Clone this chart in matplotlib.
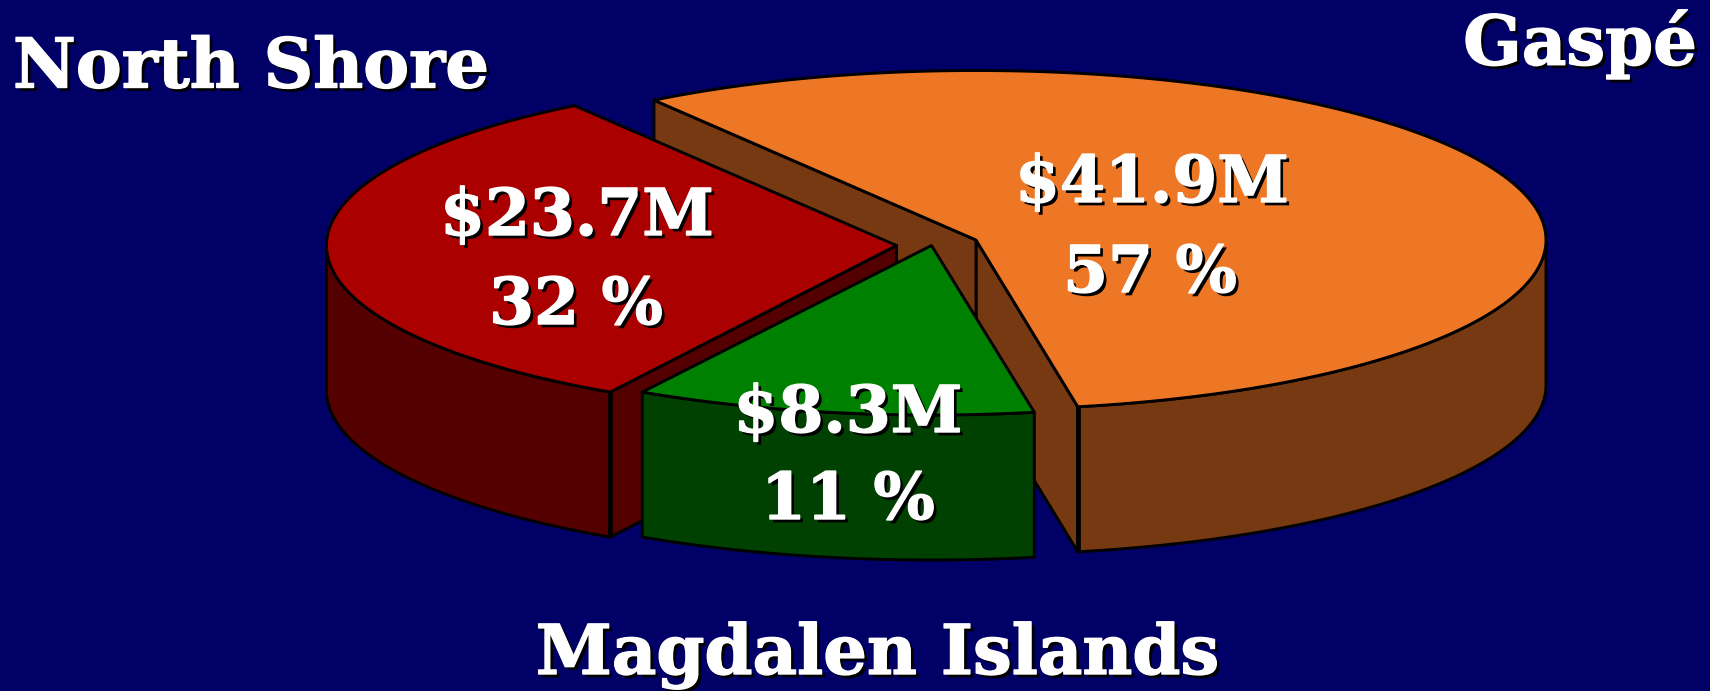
import numpy as np
import matplotlib
matplotlib.use('Agg')
import matplotlib.pyplot as plt
import matplotlib.patheffects as pe

# Data
regions = ['North Shore', 'Magdalen Islands', 'Gaspé']
amounts = [23.7, 8.3, 41.9]
percents = [32, 11, 57]

top_colors = ['#AA0000', '#008000', '#ED7725']
side_colors = ['#550000', '#004000', '#773911']
bg_color = '#000066'

# Pie geometry in pixels
radii_x = [570, 576, 570]
b, depth = 169.5, 145
start_angle = 124.4
centers = [(896.5, 245.5), (931.5, 245.5), (976, 240)]
lw = 2.1

# label positions (pixels)
value_pos = [(577, 217), (848, 414), (1152, 184)]
percent_pos = [(576, 306), (848, 501), (1150, 274)]

fig = plt.figure(figsize=(17.1, 6.91), dpi=100, facecolor=bg_color)
ax = fig.add_axes([0, 0, 1, 1])
ax.set_xlim(0, 1710)
ax.set_ylim(691, 0)
ax.axis('off')


def rim(center, a, theta):
    t = np.radians(theta)
    return center[0] + a * np.cos(t), center[1] - b * np.sin(t)


def wall(points, color):
    pts = np.array(points)
    ax.fill(pts[:, 0], pts[:, 1], facecolor=color, edgecolor='black', linewidth=lw, joinstyle='round')


# Slices are drawn back to front: Gaspé, North Shore, Magdalen Islands
sweeps = np.array(amounts) / sum(amounts) * 360
starts = start_angle + np.concatenate([[0], np.cumsum(sweeps)[:-1]])

for i in [2, 0, 1]:
    c = centers[i]
    a = radii_x[i]
    s, e = starts[i], starts[i] + sweeps[i]

    # cut faces that look toward the viewer
    for theta, visible in [(s, np.cos(np.radians(s)) > 0), (e, np.cos(np.radians(e)) < 0)]:
        if visible:
            x, y = rim(c, a, theta)
            wall([c, (x, y), (x, y + depth), (c[0], c[1] + depth)], side_colors[i])

    # front part of the outer wall
    lo = max(s, 180)
    hi = min(e, 360)
    if lo < hi:
        th = np.linspace(lo, hi, 120)
        xs, ys = rim(c, a, th)
        top_edge = list(zip(xs, ys))
        low_edge = list(zip(xs[::-1], ys[::-1] + depth))
        wall(top_edge + low_edge, side_colors[i])

        # the edge where a cut face meets the outer wall looks heavier
        if i != 1:
            edge = e if i == 0 else s
            x, y = rim(c, a, edge)
            ax.plot([x, x], [y, y + depth], color='black', linewidth=3.4, solid_capstyle='butt')

    # top of the slice
    th = np.linspace(s, e, 240)
    xs, ys = rim(c, a, th)
    wall([c] + list(zip(xs, ys)), top_colors[i])

shadow = [pe.SimplePatchShadow(offset=(2.4, -2.4), shadow_rgbFace='black', alpha=1),
          pe.Stroke(linewidth=1, foreground='white'), pe.Normal()]
font = dict(family='DejaVu Serif', weight='bold', color='white', path_effects=shadow)

for i in range(3):
    ax.text(value_pos[i][0], value_pos[i][1], f'${amounts[i]}M', fontsize=46.5, ha='center', va='center', **font)
    ax.text(percent_pos[i][0], percent_pos[i][1], f'{percents[i]} %', fontsize=46.5, ha='center', va='center', **font)

ax.text(13, 68, regions[0], fontsize=49.5, ha='left', va='center', **font)
ax.text(878, 655, regions[1], fontsize=49.5, ha='center', va='center', **font)
ax.text(1697, 44, regions[2], fontsize=49.5, ha='right', va='center', **font)

fig.savefig('out.png', dpi=100, facecolor=bg_color)
